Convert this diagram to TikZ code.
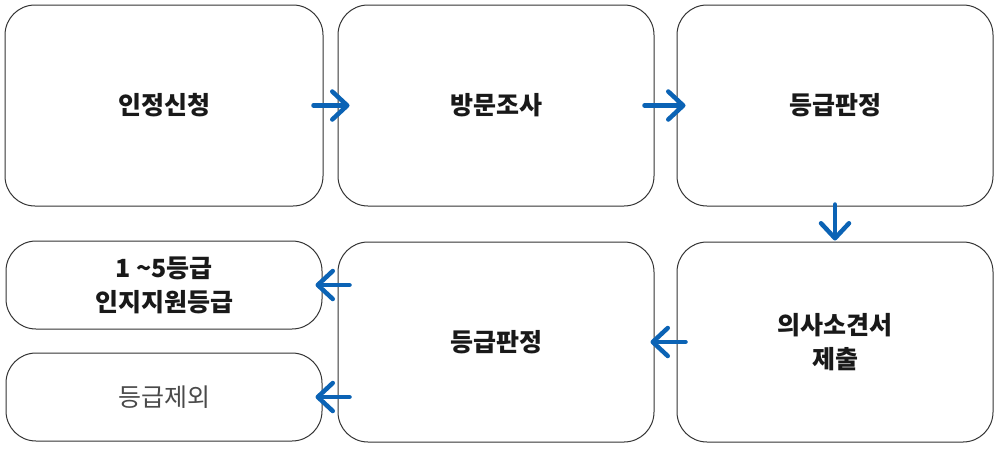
\documentclass[tikz,border=0pt]{standalone}
\usepackage{fontspec}
\setmainfont{Noto Sans CJK KR}
\usetikzlibrary{arrows.meta}
\definecolor{arrblue}{HTML}{0B63B5}
\definecolor{edgegray}{HTML}{333333}
\definecolor{txtgray}{HTML}{4A4A4A}
\tikzset{
  stepbox/.style={draw=edgegray, line width=1pt, rounded corners=30pt, fill=white,
    inner sep=0pt, font=\fontsize{25}{34}\selectfont\bfseries, align=center, text=black!90},
  flowarrow/.style={draw=arrblue, line width=4.5pt, line cap=round,
    -{Straight Barb[length=15pt,width=28pt,round]}},
}
\begin{document}
\begin{tikzpicture}[x=1pt,y=-1pt]
\useasboundingbox (0,0) rectangle (1000,448);
\node[stepbox, minimum width=318pt, minimum height=201pt] (b1) at (164,105.5) {인정신청};
\node[stepbox, minimum width=316pt, minimum height=201pt] (b2) at (496,105.5) {방문조사};
\node[stepbox, minimum width=316pt, minimum height=201pt] (b3) at (835,105.5) {등급판정};
\node[stepbox, minimum width=316pt, minimum height=200pt] (b4) at (835,342) {의사소견서\\제출};
\node[stepbox, minimum width=316pt, minimum height=200pt] (b5) at (496,342) {등급판정};
\node[stepbox, minimum width=316pt, minimum height=88pt] (s1) at (164,285) {1 \textasciitilde5등급\\인지지원등급};
\node[stepbox, minimum width=316pt, minimum height=88pt, font=\fontsize{25}{34}\selectfont, text=txtgray] (s2) at (164,397) {등급제외};
\draw[flowarrow] ([xshift=-10pt]b1.east) -- ([xshift=12pt]b2.west);
\draw[flowarrow] ([xshift=-10pt]b2.east) -- ([xshift=9pt]b3.west);
\draw[flowarrow] ([yshift=2pt]b3.south) -- ([yshift=1pt]b4.north);
\draw[flowarrow] ([xshift=9pt]b4.west) -- ([xshift=-4pt]b5.east);
\draw[flowarrow] ([xshift=12pt]b5.west |- s1.east) -- ([xshift=-7pt]s1.east);
\draw[flowarrow] ([xshift=12pt]b5.west |- s2.east) -- ([xshift=-7pt]s2.east);
\end{tikzpicture}
\end{document}
